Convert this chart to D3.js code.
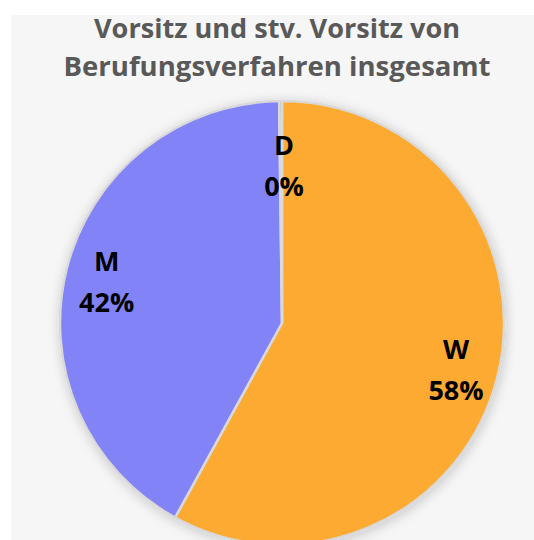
<!DOCTYPE html>
<html><head><meta charset="utf-8">
<script src="https://cdn.jsdelivr.net/npm/d3@7"></script>
<style>html,body{margin:0;padding:0;background:#fff;}svg{display:block;}</style>
</head><body>
<svg id="chart" width="534" height="540"></svg>
<script>
const titleLines = ["Vorsitz und stv. Vorsitz von", "Berufungsverfahren insgesamt"];
const categories = ["W", "M", "D"];
const values = [58, 41.8, 0.2];
const colors = ["#FDAA30", "#8383F8", "#A5A5A5"];

const W = 534, H = 540;
const svg = d3.select("#chart");
const defs = svg.append("defs");
const f = defs.append("filter").attr("id","sh").attr("x","-20%").attr("y","-20%").attr("width","140%").attr("height","140%");
f.append("feDropShadow").attr("dx",1).attr("dy",2).attr("stdDeviation",6).attr("flood-color","#000").attr("flood-opacity",0.2);

svg.append("rect").attr("x",11).attr("y",15).attr("width",W-11).attr("height",H-15).attr("fill","#f6f6f6");

svg.append("g").selectAll("text").data(titleLines).join("text")
  .attr("x",277).attr("y",(d,i)=>38+i*38)
  .attr("text-anchor","middle")
  .attr("font-family","'Open Sans', sans-serif").attr("font-weight","bold")
  .attr("font-size",27.5).attr("fill","#595959")
  .attr("textLength",(d,i)=>i===0?366:427).attr("lengthAdjust","spacingAndGlyphs")
  .text(d=>d);

const cx = 282, cy = 323, r = 222;
const total = d3.sum(values);
const pie = d3.pie().sort(null).value(d=>d.v);
const data = categories.map((c,i)=>({c, v: values[i], col: colors[i]}));
const arcs = pie(data);
const arc = d3.arc().innerRadius(0).outerRadius(r);
const labelArc = d3.arc().innerRadius(r*0.8).outerRadius(r*0.8);
const labelShift = {W: [2, -5], M: [-3, -6], D: [0, 0]};

const g = svg.append("g").attr("transform",`translate(${cx},${cy})`);
g.append("g").attr("filter","url(#sh)").selectAll("path").data(arcs).join("path")
  .attr("d",arc).attr("fill",d=>d.data.col)
  .attr("stroke","#d9d9d9").attr("stroke-width",2.5).attr("stroke-linejoin","round");

const lab = g.append("g").selectAll("g").data(arcs).join("g")
  .attr("transform",d=>{
    let [x,y] = labelArc.centroid(d);
    if (d.data.c === "D") { x = 2; y = -165; }
    const s = labelShift[d.data.c];
    return `translate(${x+s[0]},${y+s[1]})`;
  });
lab.append("text").attr("text-anchor","middle").attr("y",-3)
  .attr("font-family","'Open Sans', sans-serif").attr("font-weight","bold")
  .attr("font-size",27).attr("fill","#000").text(d=>d.data.c);
lab.append("text").attr("text-anchor","middle").attr("y",38)
  .attr("font-family","'Open Sans', sans-serif").attr("font-weight","bold")
  .attr("font-size",27).attr("fill","#000")
  .text(d=>Math.round(d.data.v/total*100)+"%");
</script>
</body></html>
